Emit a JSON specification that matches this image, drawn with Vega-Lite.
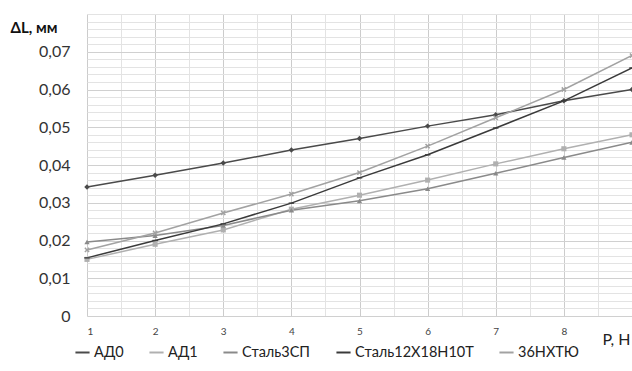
{
  "$schema": "https://vega.github.io/schema/vega-lite/v6.json",
  "width": 545,
  "height": 302,
  "autosize": {"type": "none"},
  "padding": {"left": 87, "top": 14, "right": 0, "bottom": 55},
  "background": "white",
  "config": {
    "view": {"stroke": null},
    "font": "Lato",
    "axis": {"labelFont": "Lato", "titleFont": "Lato"},
    "legend": {"labelFont": "Lato"}
  },
  "data": {
    "values": [
      {"P": 1, "series": "АД0", "dL": 0.0342},
      {"P": 2, "series": "АД0", "dL": 0.0373},
      {"P": 3, "series": "АД0", "dL": 0.0405},
      {"P": 4, "series": "АД0", "dL": 0.044},
      {"P": 5, "series": "АД0", "dL": 0.047},
      {"P": 6, "series": "АД0", "dL": 0.0503},
      {"P": 7, "series": "АД0", "dL": 0.0533},
      {"P": 8, "series": "АД0", "dL": 0.057},
      {"P": 9, "series": "АД0", "dL": 0.060},
      {"P": 1, "series": "АД1", "dL": 0.015},
      {"P": 2, "series": "АД1", "dL": 0.019},
      {"P": 3, "series": "АД1", "dL": 0.0228},
      {"P": 4, "series": "АД1", "dL": 0.0283},
      {"P": 5, "series": "АД1", "dL": 0.032},
      {"P": 6, "series": "АД1", "dL": 0.036},
      {"P": 7, "series": "АД1", "dL": 0.0403},
      {"P": 8, "series": "АД1", "dL": 0.0443},
      {"P": 9, "series": "АД1", "dL": 0.048},
      {"P": 1, "series": "Сталь3СП", "dL": 0.0196},
      {"P": 2, "series": "Сталь3СП", "dL": 0.0213},
      {"P": 3, "series": "Сталь3СП", "dL": 0.024},
      {"P": 4, "series": "Сталь3СП", "dL": 0.028},
      {"P": 5, "series": "Сталь3СП", "dL": 0.0305},
      {"P": 6, "series": "Сталь3СП", "dL": 0.0337},
      {"P": 7, "series": "Сталь3СП", "dL": 0.0378},
      {"P": 8, "series": "Сталь3СП", "dL": 0.042},
      {"P": 9, "series": "Сталь3СП", "dL": 0.046},
      {"P": 1, "series": "Сталь12Х18Н10Т", "dL": 0.0154},
      {"P": 2, "series": "Сталь12Х18Н10Т", "dL": 0.020},
      {"P": 3, "series": "Сталь12Х18Н10Т", "dL": 0.0244},
      {"P": 4, "series": "Сталь12Х18Н10Т", "dL": 0.0299},
      {"P": 5, "series": "Сталь12Х18Н10Т", "dL": 0.0366},
      {"P": 6, "series": "Сталь12Х18Н10Т", "dL": 0.0427},
      {"P": 7, "series": "Сталь12Х18Н10Т", "dL": 0.0498},
      {"P": 8, "series": "Сталь12Х18Н10Т", "dL": 0.057},
      {"P": 9, "series": "Сталь12Х18Н10Т", "dL": 0.0657},
      {"P": 1, "series": "36НХТЮ", "dL": 0.0175},
      {"P": 2, "series": "36НХТЮ", "dL": 0.022},
      {"P": 3, "series": "36НХТЮ", "dL": 0.0273},
      {"P": 4, "series": "36НХТЮ", "dL": 0.0323},
      {"P": 5, "series": "36НХТЮ", "dL": 0.038},
      {"P": 6, "series": "36НХТЮ", "dL": 0.045},
      {"P": 7, "series": "36НХТЮ", "dL": 0.0525},
      {"P": 8, "series": "36НХТЮ", "dL": 0.060},
      {"P": 9, "series": "36НХТЮ", "dL": 0.069}
    ]
  },
  "resolve": {"axis": {"x": "independent", "y": "independent"}},
  "layer": [
    {
      "mark": {"type": "point", "opacity": 0},
      "encoding": {
        "x": {
          "field": "P", "type": "quantitative",
          "scale": {"domain": [1, 9], "nice": false, "zero": false},
          "axis": {
            "orient": "bottom",
            "values": [1, 1.5, 2, 2.5, 3, 3.5, 4, 4.5, 5, 5.5, 6, 6.5, 7, 7.5, 8, 8.5, 9],
            "grid": true, "gridColor": "#e3e3e3", "gridWidth": 1,
            "labels": false, "ticks": false, "domain": false, "title": null
          }
        },
        "y": {
          "field": "dL", "type": "quantitative",
          "scale": {"domain": [0, 0.08], "nice": false, "zero": true},
          "axis": {
            "orient": "right",
            "values": [0, 0.002, 0.004, 0.006, 0.008, 0.01, 0.012, 0.014, 0.016, 0.018, 0.02, 0.022, 0.024, 0.026, 0.028, 0.03, 0.032, 0.034, 0.036, 0.038, 0.04, 0.042, 0.044, 0.046, 0.048, 0.05, 0.052, 0.054, 0.056, 0.058, 0.06, 0.062, 0.064, 0.066, 0.068, 0.07, 0.072, 0.074, 0.076, 0.078, 0.08],
            "grid": true, "gridColor": "#e3e3e3", "gridWidth": 1,
            "labels": false, "ticks": false, "domain": false, "title": null
          }
        }
      }
    },
    {
      "mark": {"type": "line", "strokeWidth": 1.5},
      "encoding": {
        "x": {
          "field": "P", "type": "quantitative",
          "scale": {"domain": [1, 9], "nice": false, "zero": false},
          "axis": {
            "orient": "bottom",
            "values": [1, 2, 3, 4, 5, 6, 7, 8, 9],
            "grid": true, "gridColor": "#cccccc", "gridWidth": 1,
            "ticks": false, "domain": false,
            "labelExpr": "datum.value == 9 ? '' : datum.label",
            "labelFontSize": 10, "labelColor": "#444444", "labelPadding": 10,
            "title": "Р, Н", "titleFontSize": 16, "titleFontWeight": "normal", "titleColor": "#222222",
            "titleAnchor": "end", "titleAlign": "right", "titleX": 543, "titleY": 28, "titleBaseline": "alphabetic"
          }
        },
        "y": {
          "field": "dL", "type": "quantitative",
          "scale": {"domain": [0, 0.08], "nice": false, "zero": true},
          "axis": {
            "orient": "left",
            "values": [0, 0.01, 0.02, 0.03, 0.04, 0.05, 0.06, 0.07],
            "grid": true, "gridColor": "#d0d0d0", "gridWidth": 1,
            "ticks": false, "domain": false,
            "labelExpr": "datum.value == 0 ? '0' : replace(format(datum.value, '.2f'), '.', ',')",
            "labelFontSize": 16, "labelColor": "#333333", "labelPadding": 17,
            "title": "ΔL, мм", "titleAngle": 0, "titleFontSize": 15, "titleFontWeight": "bold", "titleColor": "#111111",
            "titleAlign": "left", "titleBaseline": "middle", "titleX": -77, "titleY": 13
          }
        },
        "color": {
          "field": "series", "type": "nominal",
          "scale": {
            "domain": ["АД0", "АД1", "Сталь3СП", "Сталь12Х18Н10Т", "36НХТЮ"],
            "range": ["#4a4a4a", "#b0b0b0", "#8a8a8a", "#3a3a3a", "#a2a2a2"]
          },
          "legend": {
            "title": null, "orient": "none", "direction": "horizontal",
            "legendX": -13, "legendY": 330,
            "symbolType": "stroke", "symbolStrokeWidth": 2, "symbolSize": 200,
            "labelFontSize": 14.5, "labelColor": "#222222", "columnPadding": 21, "labelOffset": 3
          }
        }
      }
    },
    {
      "transform": [{"filter": "datum.series == 'АД0'"}],
      "mark": {"type": "point", "filled": true, "opacity": 1, "shape": "diamond", "size": 30, "color": "#4a4a4a"},
      "encoding": {
        "x": {"field": "P", "type": "quantitative", "axis": null},
        "y": {"field": "dL", "type": "quantitative", "axis": null}
      }
    },
    {
      "transform": [{"filter": "datum.series == 'АД1'"}],
      "mark": {"type": "point", "filled": true, "opacity": 1, "shape": "square", "size": 26, "color": "#b0b0b0"},
      "encoding": {
        "x": {"field": "P", "type": "quantitative", "axis": null},
        "y": {"field": "dL", "type": "quantitative", "axis": null}
      }
    },
    {
      "transform": [{"filter": "datum.series == 'Сталь3СП'"}],
      "mark": {"type": "point", "filled": true, "opacity": 1, "shape": "triangle-up", "size": 28, "color": "#8a8a8a"},
      "encoding": {
        "x": {"field": "P", "type": "quantitative", "axis": null},
        "y": {"field": "dL", "type": "quantitative", "axis": null}
      }
    },
    {
      "transform": [{"filter": "datum.series == 'Сталь12Х18Н10Т'"}],
      "mark": {"type": "point", "filled": true, "opacity": 1, "shape": "M-1,-0.25L1,-0.25L1,0.25L-1,0.25Z", "size": 30, "color": "#3a3a3a"},
      "encoding": {
        "x": {"field": "P", "type": "quantitative", "axis": null},
        "y": {"field": "dL", "type": "quantitative", "axis": null}
      }
    },
    {
      "transform": [{"filter": "datum.series == '36НХТЮ'"}],
      "mark": {"type": "point", "filled": true, "opacity": 1, "shape": "M-1,-0.6L-0.6,-1L0,-0.4L0.6,-1L1,-0.6L0.4,0L1,0.6L0.6,1L0,0.4L-0.6,1L-1,0.6L-0.4,0Z", "size": 28, "color": "#a2a2a2"},
      "encoding": {
        "x": {"field": "P", "type": "quantitative", "axis": null},
        "y": {"field": "dL", "type": "quantitative", "axis": null}
      }
    }
  ]
}
